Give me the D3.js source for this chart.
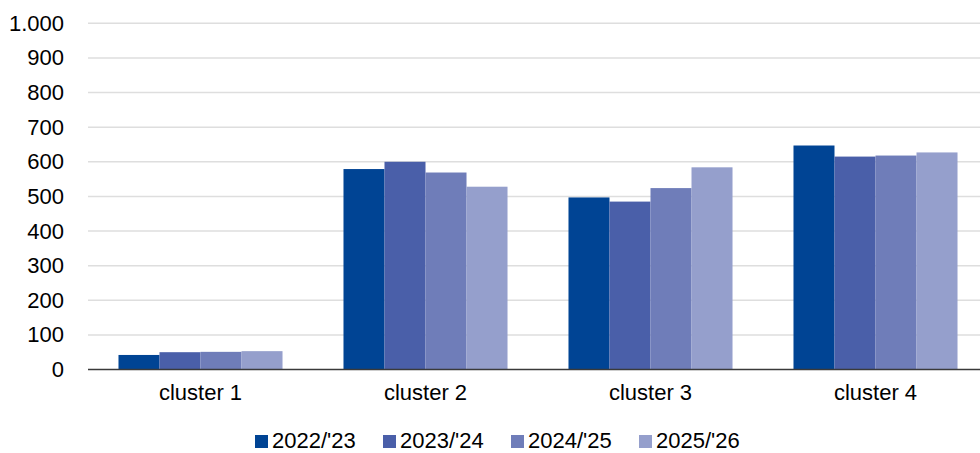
<!DOCTYPE html>
<html><head><meta charset="utf-8">
<script src="https://cdn.jsdelivr.net/npm/d3@7"></script>
<style>body{margin:0;background:#fff}svg{display:block}text{font-family:"Liberation Sans",Arial,sans-serif;fill:#000}</style>
</head><body><svg id="c" width="980" height="453"></svg>
<script>
const categories = ["cluster 1","cluster 2","cluster 3","cluster 4"];
const seriesNames = ["2022/'23","2023/'24","2024/'25","2025/'26"];
const s2022 = [42, 579, 497, 647];
const s2023 = [50, 600, 485, 615];
const s2024 = [51, 569, 524, 618];
const s2025 = [53, 528, 584, 627];
const yTicks = [0,100,200,300,400,500,600,700,800,900,1000];
const colors = ["#004494","#4a5fa9","#6f7db9","#959fcc"];
const series = [s2022,s2023,s2024,s2025];

const svg = d3.select("#c");
const L = 88, R = 988, T = 23.3, B = 369.5;
const x = d3.scaleBand().domain(categories).range([L,R]).paddingInner(0.271).paddingOuter(0.1355);
const x1 = d3.scaleBand().domain(seriesNames).range([0,x.bandwidth()]);
const y = d3.scaleLinear().domain([0,1000]).range([B,T]);
const fmt = v => d3.format(",")(v).replace(/,/g,".");

// gridlines
svg.append("g").selectAll("line").data(yTicks.filter(d=>d>0)).join("line")
  .attr("x1",L).attr("x2",R).attr("y1",d=>y(d)).attr("y2",d=>y(d))
  .attr("stroke","#dedede").attr("stroke-width",1.5);

// y axis labels
const ya = svg.append("g").attr("transform",`translate(${L},0)`)
  .call(d3.axisLeft(y).tickValues(yTicks).tickFormat(fmt).tickSize(0).tickPadding(24));
ya.select(".domain").remove();
ya.selectAll("text").style("font-size","22px").attr("fill","#000").attr("font-family","Liberation Sans, Arial, sans-serif");

// bars
series.forEach((s,i)=>{
  svg.append("g").selectAll("rect").data(categories).join("rect")
    .attr("x",c=>x(c)+x1(seriesNames[i]))
    .attr("width",x1.bandwidth())
    .attr("y",(c,j)=>y(s[j]))
    .attr("height",(c,j)=>y(0)-y(s[j]))
    .attr("fill",colors[i]);
});

// x axis
const xa = svg.append("g").attr("transform",`translate(0,${B})`)
  .call(d3.axisBottom(x).tickSize(0).tickPadding(15));
xa.select(".domain").attr("stroke","#3a3a3a").attr("stroke-width",1.5).attr("d",`M${L},0H${R}`);
xa.selectAll("text").style("font-size","22px").attr("fill","#000").attr("font-family","Liberation Sans, Arial, sans-serif");

// legend
const lg = svg.append("g").selectAll("g").data(seriesNames).join("g")
  .attr("transform",(d,i)=>`translate(${255+i*128},435)`);
lg.append("rect").attr("width",13).attr("height",13).attr("fill",(d,i)=>colors[i]);
lg.append("text").attr("x",17).attr("y",13).style("font-size","22px").text(d=>d);
</script></body></html>
